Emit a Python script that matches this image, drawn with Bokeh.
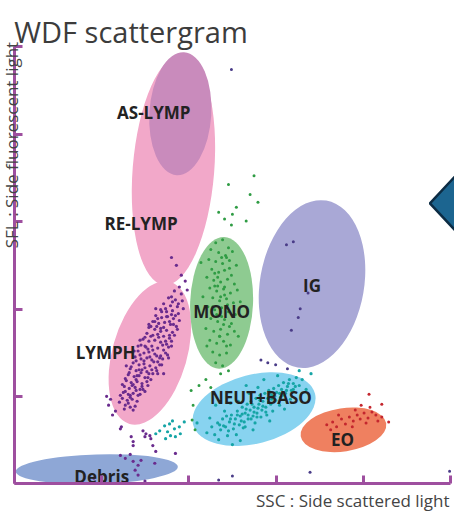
import math
from bokeh.plotting import figure
from bokeh.models import LinearAxis, FixedTicker, Label, Range1d, ColumnDataSource
from bokeh.core.properties import value
from bokeh.embed import file_html
from bokeh.resources import INLINE

# ---------------- data (channel units) ----------------
pop_names = ["RE-LYMP", "AS-LYMP", "LYMPH", "MONO", "IG", "NEUT+BASO", "EO", "Debris"]
ell_x = [162, 169, 138, 211, 303, 244, 335, 84]
ell_y = [319, 376, 133, 184, 203, 76, 55, 15]
ell_w = [83, 63, 76, 64, 106, 128, 88, 165]
ell_h = [235, 125, 150, 134, 172, 70, 44, 30]
ell_angle = [-0.08, -0.06, -0.28, -0.04, -0.17, 0.25, 0.15, 0.03]
ell_color = ["#f2a8c9", "#c98bbc", "#f2a8c9", "#8ecb91", "#a9a8d6", "#88d3f0", "#ef8060", "#8ea7d6"]

label_text = ["AS-LYMP", "RE-LYMP", "LYMPH", "MONO", "IG", "NEUT+BASO", "EO", "Debris"]
label_x = [142, 129, 93, 211, 303, 251, 334, 89]
label_y = [377, 265, 134, 175, 202, 88, 45, 8]

lymph_x = [163, 170, 157, 164, 171, 152, 159, 166, 172, 149, 155, 161, 167, 144, 150, 156, 162, 168,
           141, 147, 153, 159, 165, 137, 143, 149, 155, 161, 166, 135, 141, 146, 152, 158, 163,
           131, 137, 143, 149, 155, 160, 129, 134, 140, 146, 152, 157, 126, 132, 137, 143, 149, 154,
           123, 129, 135, 140, 146, 151, 121, 127, 132, 138, 144, 148, 118, 124, 130, 135, 141, 145,
           116, 122, 127, 133, 139, 114, 119, 125, 130, 136, 112, 117, 123, 128, 133, 111, 116, 121, 126,
           110, 115, 120, 125, 113, 118, 123,
           145, 139, 133, 127, 150, 158, 120, 125, 142, 136, 154, 148, 160, 131, 118, 137, 161, 144, 128, 157, 152, 114, 122,
           160, 167, 154, 146, 164, 139, 152, 158, 133, 147, 160, 136, 151, 128, 141, 156, 124, 138, 150, 119,
           133, 146, 117, 129, 140, 113, 124, 135, 110, 121, 130, 113, 124, 108, 118, 128, 107, 116, 121, 112,
           143, 155, 132, 126, 145, 137, 149, 162,
           168, 174, 170, 165, 160, 176,
           94, 98, 103, 109, 96, 100, 108, 119, 121, 121, 131, 133, 134, 138, 139, 141,
           108, 113, 118, 121, 126, 129, 143, 144, 123, 126, 164, 81, 133]
lymph_y = [196, 193, 189, 187, 186, 183, 181, 180, 178, 177, 175, 176, 173, 171, 169, 170, 168, 166,
           165, 163, 164, 162, 160, 159, 157, 158, 156, 154, 157, 153, 151, 152, 150, 148, 151,
           147, 145, 146, 144, 142, 145, 141, 139, 140, 138, 136, 139, 135, 133, 134, 132, 130, 133,
           129, 127, 128, 126, 124, 127, 123, 121, 122, 120, 118, 121, 117, 115, 116, 114, 112, 115,
           111, 109, 110, 108, 106, 105, 103, 104, 102, 100, 99, 97, 98, 96, 94, 93, 91, 92, 90,
           87, 85, 86, 84, 80, 78, 79,
           160, 150, 140, 116, 175, 165, 100, 110, 124, 108, 145, 128, 172, 96, 90, 162, 185, 178, 146, 128, 112, 120, 135,
           190, 183, 178, 168, 171, 160, 159, 151, 149, 149, 140, 137, 141, 131, 136, 131, 125, 129, 121, 119,
           118, 112, 113, 113, 116, 107, 106, 104, 101, 101, 99, 94, 95, 90, 88, 91, 83, 82, 75, 76,
           165, 170, 125, 140, 130, 112, 155, 162,
           200, 206, 212, 222, 230, 197,
           89, 86, 74, 58, 80, 70, 56, 48, 43, 39, 54, 48, 51, 49, 46, 39,
           29, 26, 30, 23, 19, 24, 21, 33, 14, 9, 31, 6, 3]

mono_x = [205, 212, 218, 200, 208, 215, 222, 198, 205, 212, 219, 226, 201, 208, 214, 221, 196, 203, 210,
          217, 224, 199, 206, 213, 220, 227, 202, 209, 216, 223, 197, 204, 211, 218, 225, 200, 207, 214,
          221, 195, 203, 210, 217, 224, 199, 206, 213, 220, 202, 209, 216, 205, 212, 192, 230, 196, 228,
          210, 218, 190, 207, 214, 211, 219, 204, 216, 209,
          207, 214, 210, 217, 206, 213, 209, 216, 204, 219, 211, 202,
          244, 218, 240, 248, 236, 221, 222, 226, 208, 214,
          188, 195, 200, 180, 182, 181, 184]
mono_y = [245, 248, 240, 238, 235, 232, 236, 228, 226, 224, 227, 222, 218, 215, 217, 212, 210, 207, 205,
          208, 203, 199, 196, 198, 194, 197, 189, 186, 188, 184, 180, 177, 179, 175, 172, 168, 165, 167,
          163, 158, 155, 157, 152, 155, 146, 143, 145, 141, 134, 131, 133, 123, 120, 190, 185, 140, 150,
          112, 115, 225, 201, 192, 170, 160, 214, 230, 150,
          210, 200, 190, 182, 172, 162, 150, 140, 201, 219, 230, 180,
          313, 304, 294, 286, 267, 263, 274, 281, 276, 269,
          100, 106, 98, 95, 80, 65, 55]

neut_x = [196, 201, 204, 207, 210, 212, 215, 217, 219, 221, 223, 225, 227, 229, 230, 232, 234, 235, 237,
          238, 240, 241, 243, 244, 246, 247, 249, 250, 252, 253, 255, 256, 258, 259, 261, 262, 264, 266,
          267, 269, 271, 272, 274, 276, 278, 280, 282, 284, 287, 290, 293, 226, 233, 245, 251, 263, 270,
          281, 214, 228, 239, 248, 208, 199, 222, 260, 275, 297, 302, 236, 254, 220, 243, 257, 268, 290,
          186, 205, 230,
          209, 216, 224, 231, 236, 242, 248, 253, 259, 265, 270, 277, 284, 244, 238, 232, 227, 220, 213, 250,
          256, 262, 273, 279, 286, 247, 241, 235, 218, 260,
          144, 148, 153, 156, 158, 159, 163, 164, 168, 169, 173, 154, 161]
neut_y = [52, 58, 50, 62, 55, 66, 58, 49, 63, 70, 56, 66, 74, 60, 69, 78, 63, 72, 81,
          66, 75, 84, 69, 78, 87, 72, 81, 90, 75, 84, 92, 78, 87, 95, 81, 90, 97, 85,
          93, 100, 88, 96, 103, 92, 99, 106, 95, 102, 108, 100, 106, 50, 57, 62, 68, 74, 80,
          86, 74, 84, 92, 98, 45, 67, 40, 64, 76, 96, 112, 100, 106, 82, 55, 70, 110, 115,
          62, 80, 44,
          60, 69, 61, 64, 76, 81, 77, 79, 83, 89, 92, 95, 96, 73, 70, 71, 70, 66, 59, 85,
          73, 86, 90, 102, 99, 68, 66, 58, 54, 92,
          51, 54, 59, 53, 61, 49, 56, 48, 58, 51, 63, 46, 64]

eo_x = [318, 324, 328, 333, 337, 341, 345, 349, 352, 356, 360, 364, 368, 330, 344, 358, 370, 322, 347,
        362, 374, 353, 361, 374, 381]
eo_y = [60, 63, 58, 66, 61, 68, 64, 70, 66, 72, 67, 73, 70, 70, 58, 62, 64, 55, 75,
        78, 68, 80, 91, 81, 63]

other_x = [221, 277, 284, 299, 291, 289, 282, 208, 222, 301, 443, 251, 258, 278, 266]
other_y = [421, 243, 246, 194, 178, 169, 156, 4, 8, 12, 13, 126, 123, 117, 121]

axis_ticks = [0, 88.8, 177.6, 266.4, 355.2, 444]

arrow_x = [423, 466, 509, 466]
arrow_y = [285, 331, 285, 239]

# ---------------- figure ----------------
p = figure(width=454, height=512, x_range=Range1d(-14, 448), y_range=Range1d(-29, 491),
           x_axis_type=None, y_axis_type=None, output_backend="svg",
           toolbar_location=None, min_border=0)
p.outline_line_color = None
p.background_fill_color = "white"
p.border_fill_color = "white"

src = ColumnDataSource(dict(x=ell_x, y=ell_y, w=ell_w, h=ell_h, a=ell_angle, c=ell_color))
p.ellipse(x="x", y="y", width="w", height="h", angle="a", fill_color="c",
          line_color=None, source=src)

p.scatter(other_x, other_y, size=3, fill_color="#4a3c88", line_color=None)
p.scatter(lymph_x, lymph_y, size=3.2, fill_color="#6a2c8e", line_color=None)
p.scatter(mono_x, mono_y, size=3, fill_color="#2f9c44", line_color=None)
p.scatter(neut_x, neut_y, size=3.2, fill_color="#16a5a6", line_color=None)
p.scatter(eo_x, eo_y, size=3, fill_color="#c4262e", line_color=None)

p.text(x=label_x, y=label_y, text=label_text, text_align="center", text_baseline="alphabetic",
       text_font=value("Open Sans"), text_font_style="bold", text_font_size="17px",
       text_color="#222222")

p.patch(arrow_x, arrow_y, fill_color="#1c6590", line_color="#0c2c44", line_width=2.5)

axis_color = "#9e4f9f"
for side in ("left", "below"):
    ax = LinearAxis(fixed_location=0, ticker=FixedTicker(ticks=axis_ticks), bounds=(0, 444))
    ax.axis_line_color = axis_color
    ax.axis_line_width = 3
    ax.major_tick_line_color = axis_color
    ax.major_tick_line_width = 3
    ax.major_tick_in = 8
    ax.major_tick_out = 0
    ax.minor_tick_line_color = None
    ax.major_label_text_color = None
    ax.major_label_text_font_size = "1px"
    p.add_layout(ax, side)

p.add_layout(Label(x=0, y=460, text="WDF scattergram", text_font="Open Sans", text_font_size="29px",
                   text_color="#3c3c3c", text_baseline="alphabetic"))
p.add_layout(Label(x=443, y=-17, text="SSC : Side scattered light", text_font="Open Sans",
                   text_font_size="17px", text_color="#444444", text_align="right",
                   text_baseline="alphabetic"))
p.add_layout(Label(x=-3, y=449, text="SFL : Side fluorescent light", text_font="Open Sans",
                   text_font_size="17px", text_color="#444444", text_align="right",
                   text_baseline="alphabetic", angle=math.pi / 2))

open("out.html", "w").write(file_html(p, INLINE))
